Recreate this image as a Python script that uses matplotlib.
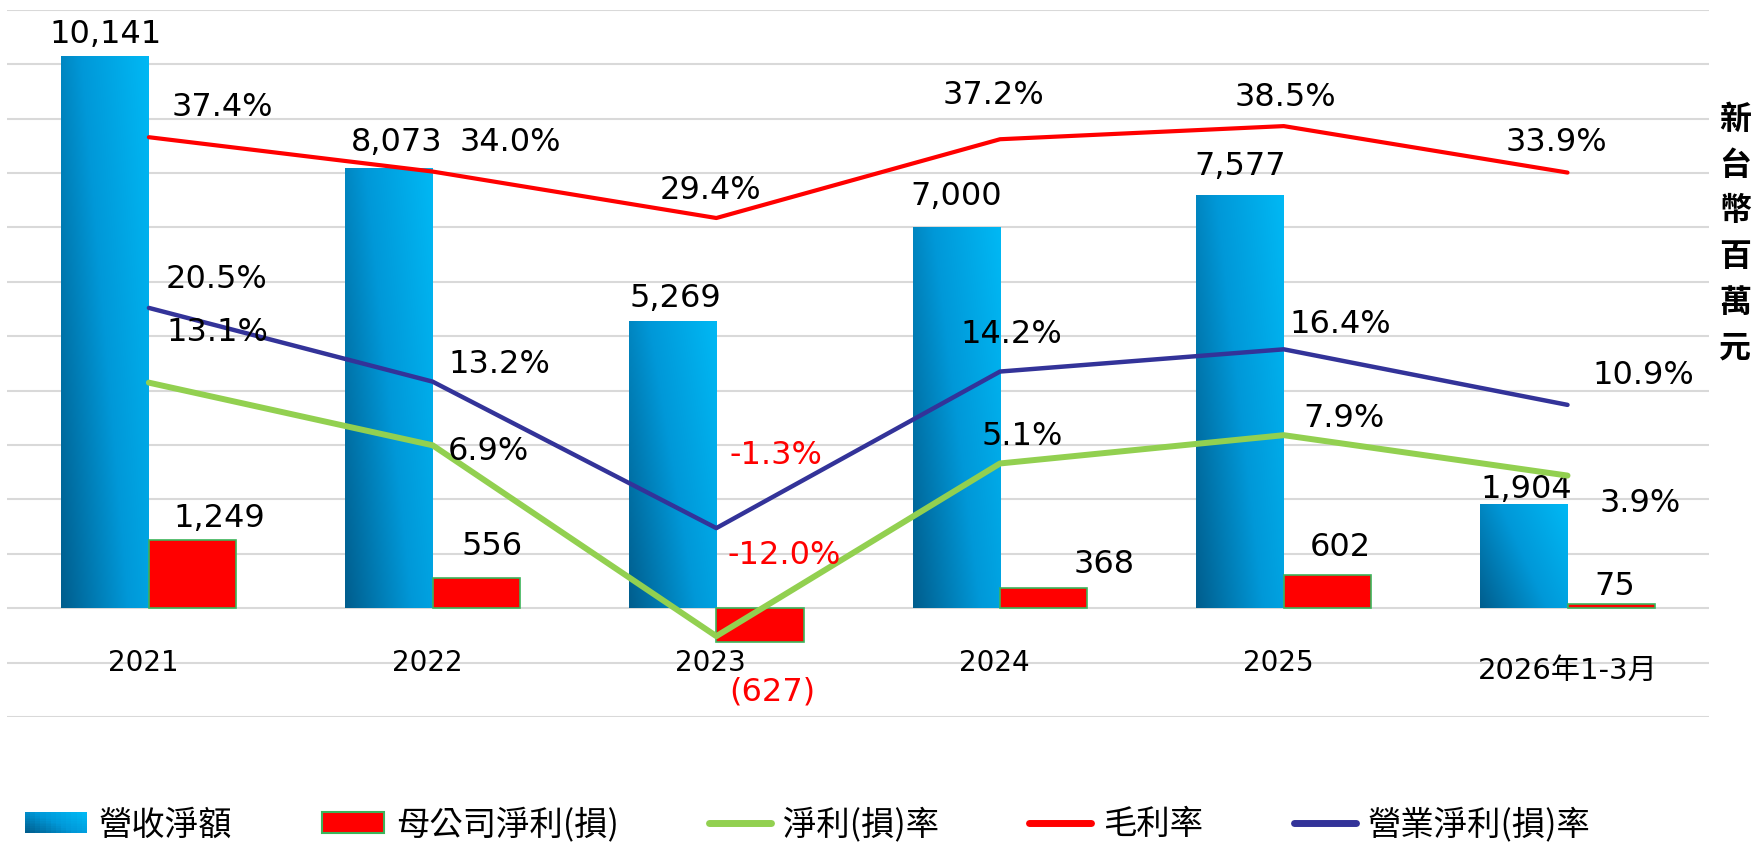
import numpy as np
import matplotlib
matplotlib.use('agg')
import matplotlib.pyplot as plt
from matplotlib.colors import LinearSegmentedColormap
from matplotlib.patches import Rectangle
from matplotlib.lines import Line2D
from matplotlib.legend_handler import HandlerBase

plt.rcParams['font.family'] = ['DejaVu Sans', 'Noto Sans CJK TC']

years = ['2021', '2022', '2023', '2024', '2025', '2026年1-3月']
revenue = [10141, 8073, 5269, 7000, 7577, 1904]
net_income = [1249, 556, -627, 368, 602, 75]
gross_margin = [37.4, 34.0, 29.4, 37.2, 38.5, 33.9]
op_margin = [20.5, 13.2, -1.3, 14.2, 16.4, 10.9]
net_margin = [13.1, 6.9, -12.0, 5.1, 7.9, 3.9]

# label offsets in pixels (dx, dy downwards)
rev_off = [(0, -22), (8, -27), (3, -23), (0, -31), (0, -30), (2, -15)]
ni_off = [(27, -22), (16, -31), (12, 50), (60, -24), (13, -28), (4, -18)]
gm_off = [(73, -30), (78, -29), (-6, -28), (-7, -44), (2, -29), (-11, -30)]
om_off = [(68, -28), (67, -17), (60, -73), (11, -37), (56, -25), (76, -29)]
nm_off = [(68, -50), (56, 6), (68, -81), (22, -27), (60, -17), (73, 28)]

blue_cmap = LinearSegmentedColormap.from_list('rev', ['#005e8e', '#0098d8', '#00b8f4'])


class GradientHandler(HandlerBase):
    def create_artists(self, legend, orig_handle, xdescent, ydescent,
                       width, height, fontsize, trans):
        n = 12
        arts = []
        for i in range(n):
            for j in range(n):
                t = 0.6 * i / (n - 1) + 0.4 * j / (n - 1)
                r = Rectangle((-xdescent + i * width / n, -ydescent + j * height / n),
                              width / n * 1.08, height / n * 1.08,
                              facecolor=blue_cmap(t), linewidth=0, transform=trans)
                arts.append(r)
        return arts


fig = plt.figure(figsize=(17.55, 8.43), dpi=100)
ax = fig.add_axes([0.004, 0.1495, 0.970, 0.8387])
ax2 = ax.twinx()

x = np.arange(len(years))
bw = 0.308

rev_bars = ax.bar(x - bw / 2, revenue, bw, color='none', linewidth=0, zorder=2)
for b in rev_bars:
    bx, by = b.get_xy()
    w, h = b.get_width(), b.get_height()
    U, V = np.meshgrid(np.linspace(0, 1, 64), np.linspace(0, 1, 64))
    ax.imshow(0.65 * U + 0.35 * V, cmap=blue_cmap, extent=(bx, bx + w, by, by + h),
              origin='lower', aspect='auto', zorder=2, interpolation='bilinear')

ni_bars = ax.bar(x + bw / 2, net_income, bw, color='#ff0000', edgecolor='#3cb45a',
                 linewidth=1.2, zorder=2)

ax.set_xlim(-0.5, len(years) - 0.5)
ax.set_ylim(-2000, 11000)
ax.set_yticks(np.arange(-2000, 11001, 1000))
ax.yaxis.grid(True, color='#d9d9d9', linewidth=1.5)
ax.set_axisbelow(True)
ax.tick_params(left=False, bottom=False, labelleft=False, labelbottom=False)
for s in ax.spines.values():
    s.set_visible(False)

# category labels sit on the -1000 gridline
for i, yr in enumerate(years):
    if i == len(years) - 1:
        ax.text(i, -1150, yr, ha='center', va='center', fontsize=21, color='black')
    else:
        ax.text(i - 0.02, -1000, yr, ha='center', va='center', fontsize=20, color='black')

for i, v in enumerate(revenue):
    dx, dy = rev_off[i]
    ax.annotate(f'{v:,}', (x[i] - bw / 2, v), xytext=(dx, -dy), textcoords='offset pixels',
                ha='center', va='center', fontsize=23, zorder=5)
for i, v in enumerate(net_income):
    dx, dy = ni_off[i]
    txt = f'({-v:,})' if v < 0 else f'{v:,}'
    ax.annotate(txt, (x[i] + bw / 2, v), xytext=(dx, -dy), textcoords='offset pixels',
                ha='center', va='center', fontsize=23, color='red' if v < 0 else 'black', zorder=5)

# margins on the hidden right axis
ax2.set_ylim(-20, 50)
ax2.axis('off')
ax2.plot(x, gross_margin, color='#ff0000', lw=3.0, solid_capstyle='round', zorder=3)
ax2.plot(x, op_margin, color='#333399', lw=3.2, solid_capstyle='round', zorder=3)
ax2.plot(x, net_margin, color='#92d050', lw=4.3, solid_capstyle='round', zorder=3)

for vals, offs in [(gross_margin, gm_off), (op_margin, om_off), (net_margin, nm_off)]:
    for i, v in enumerate(vals):
        dx, dy = offs[i]
        ax2.annotate(f'{v:.1f}%', (x[i], v), xytext=(dx, -dy), textcoords='offset pixels',
                     ha='center', va='center', fontsize=23,
                     color='red' if v < 0 else 'black', zorder=5)

fig.text(0.9886, 0.722, '\n'.join('新台幣百萬元'), ha='center', va='center',
         fontsize=23, fontweight='bold', family='Noto Sans CJK TC', linespacing=1.55)

handles = [
    Rectangle((0, 0), 1, 1),
    Rectangle((0, 0), 1, 1, facecolor='#ff0000', edgecolor='#3cb45a', linewidth=1.5),
    Line2D([], [], color='#92d050', lw=5, solid_capstyle='round'),
    Line2D([], [], color='#ff0000', lw=5, solid_capstyle='round'),
    Line2D([], [], color='#333399', lw=5, solid_capstyle='round'),
]
labels = ['營收淨額', '母公司淨利(損)', '淨利(損)率', '毛利率', '營業淨利(損)率']
fig.legend(handles, labels, loc='center left', bbox_to_anchor=(0.0142, 0.0214), ncol=5,
           frameon=False, borderpad=0, borderaxespad=0, handlelength=1.86, handleheight=0.57,
           handletextpad=0.36, columnspacing=2.7,
           handler_map={handles[0]: GradientHandler()},
           prop={'family': 'Noto Sans CJK TC', 'size': 24})

fig.savefig('out.png', dpi=100)
